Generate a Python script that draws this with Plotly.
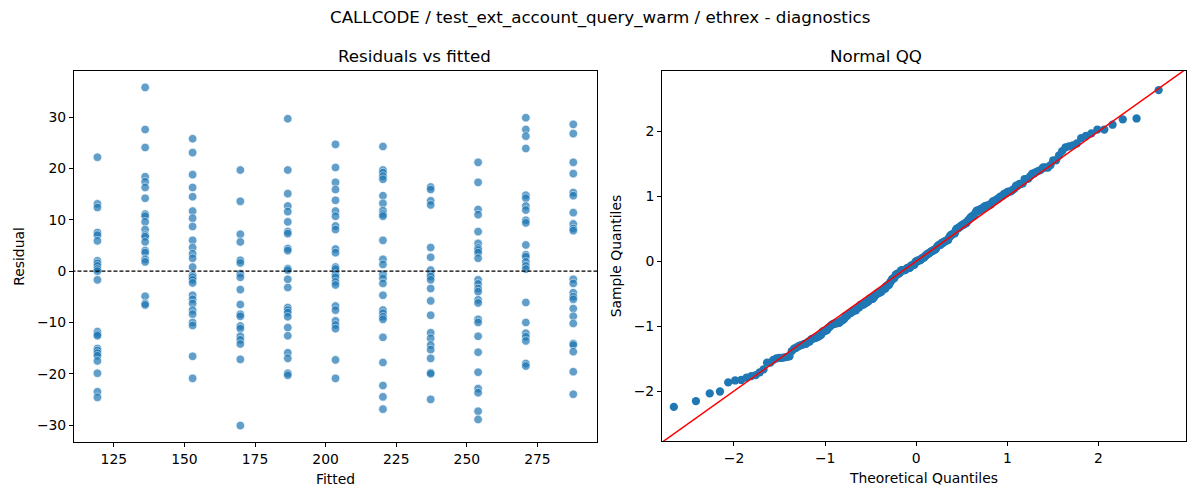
from statistics import NormalDist, mean, pstdev

import plotly.graph_objects as go

# fitted value of each group (x position of the columns)
fitted_levels = [119.2, 136.1, 152.9, 169.8, 186.6, 203.5, 220.3, 237.2, 254.0, 270.9, 287.7]

# residuals, top to bottom
res_119 = [22.2, 13.1, 12.4, 7.5, 7.0, 5.9, 2.0, 1.5, 1.0, 0.4, 0.0, -1.7, -11.8, -12.3, -12.6,
           -15.1, -15.5, -16.0, -16.5, -17.5, -19.9, -23.5, -24.6]
res_136 = [35.8, 27.6, 24.1, 18.4, 17.4, 16.3, 14.2, 11.1, 10.7, 9.6, 8.1, 7.0, 6.7, 5.7, 4.0,
           3.6, 2.3, 1.8, -4.9, -6.3, -6.6]
res_153 = [25.8, 23.1, 18.8, 16.3, 14.5, 11.7, 10.3, 8.7, 6.0, 4.6, 3.4, 2.5, 0.8, -0.8, -1.2,
           -1.7, -2.3, -4.7, -5.5, -6.3, -7.6, -8.4, -10.0, -10.6, -16.6, -20.9]
res_170 = [19.7, 13.6, 7.2, 5.7, 2.1, 1.6, -0.5, -1.2, -3.6, -6.5, -8.4, -8.8, -10.7, -11.2,
           -12.7, -13.4, -14.2, -17.2, -30.1]
res_187 = [29.7, 19.7, 15.1, 12.7, 11.6, 9.6, 7.7, 7.3, 4.4, 4.0, 0.5, 0.2, -1.6, -3.2, -7.1,
           -7.6, -8.1, -8.9, -11.0, -12.6, -15.9, -17.0, -19.9, -20.3]
res_204 = [24.7, 20.2, 17.3, 15.9, 13.8, 11.7, 10.7, 8.8, 8.1, 4.3, 3.6, 0.8, 0.4, -0.6, -1.2,
           -2.1, -2.7, -6.8, -7.6, -9.7, -10.5, -11.2, -17.3, -20.9]
res_220 = [24.3, 19.7, 19.2, 18.5, 17.9, 14.7, 13.2, 11.8, 11.1, 10.7, 6.0, 2.3, 1.3, -0.6,
           -1.4, -2.4, -4.7, -7.6, -8.2, -8.9, -9.4, -12.9, -17.8, -22.3, -24.5, -26.9]
res_237 = [16.4, 15.9, 13.7, 12.9, 4.6, 2.7, 0.2, -0.6, -1.1, -1.7, -3.4, -5.8, -8.6, -12.0,
           -13.1, -14.4, -15.3, -17.0, -19.8, -20.0, -25.0]
res_254 = [21.2, 17.3, 12.0, 11.0, 7.7, 5.4, 4.5, 4.1, 3.6, 2.5, -1.7, -2.5, -3.4, -4.0, -5.6,
           -6.2, -9.4, -10.0, -12.7, -15.8, -19.7, -22.9, -23.7, -27.3, -28.9]
res_271 = [29.9, 27.6, 26.3, 23.9, 14.8, 14.2, 12.7, 11.9, 9.9, 9.4, 5.1, 3.2, 2.8, 1.8, 1.0,
           0.4, -6.1, -10.0, -12.1, -12.8, -13.6, -18.0, -18.5]
res_288 = [28.6, 26.8, 21.2, 19.0, 15.3, 14.7, 11.4, 9.2, 8.3, 7.9, -1.6, -2.4, -4.2, -5.0,
           -5.5, -7.3, -8.8, -10.2, -14.1, -14.4, -15.7, -19.6, -24.0]

residual_groups = [res_119, res_136, res_153, res_170, res_187, res_204,
                   res_220, res_237, res_254, res_271, res_288]

title = "CALLCODE / test_ext_account_query_warm / ethrex - diagnostics"
font = "DejaVu Sans"
blue = "#1f77b4"

fitted = []
resid = []
for level, group in zip(fitted_levels, residual_groups):
    fitted += [level] * len(group)
    resid += group

# normal QQ: standardised sample quantiles vs normal quantiles
n = len(resid)
mu = mean(resid)
sd = pstdev(resid)
sample_q = sorted((r - mu) / sd for r in resid)
theo_q = [NormalDist().inv_cdf(i / (n + 1)) for i in range(1, n + 1)]

fig = go.Figure()

fig.add_trace(go.Scatter(
    x=fitted, y=resid, mode="markers",
    marker=dict(size=8.6, color=blue, opacity=0.7, line=dict(color="white", width=0.7)),
    xaxis="x", yaxis="y", showlegend=False))
fig.add_trace(go.Scatter(
    x=[110, 297], y=[0, 0], mode="lines",
    line=dict(color="black", width=1.1, dash="4px,2px"),
    xaxis="x", yaxis="y", showlegend=False))

fig.add_trace(go.Scatter(
    x=theo_q, y=sample_q, mode="markers",
    marker=dict(size=8.3, color=blue),
    xaxis="x2", yaxis="y2", showlegend=False))
fig.add_trace(go.Scatter(
    x=[-3.5, 3.5], y=[-3.5, 3.5], mode="lines",
    line=dict(color="red", width=1.5),
    xaxis="x2", yaxis="y2", showlegend=False))

axis_style = dict(showline=True, mirror=True, linecolor="black", linewidth=1,
                  ticks="outside", ticklen=4, tickwidth=1, tickcolor="black",
                  showgrid=False, zeroline=False, automargin=False,
                  tickfont=dict(family=font, size=13.9, color="black"))

# the page body adds 8px, so the figure is 1192x492
W, H = 1192, 492

fig.update_layout(
    width=W, height=H,
    margin=dict(l=0, r=0, t=0, b=0),
    paper_bgcolor="white", plot_bgcolor="white",
    font=dict(family=font, color="black"),
    xaxis=dict(domain=[66 / W, 589 / W], range=[110.9, 296.1], tickvals=[125, 150, 175, 200, 225, 250, 275],
               title=dict(text="Fitted", font=dict(size=13.9), standoff=8), anchor="y", **axis_style),
    yaxis=dict(domain=[1 - 434 / H, 1 - 63 / H], range=[-33.3, 39.0], dtick=10,
               title=dict(text="Residual", font=dict(size=13.9), standoff=9), anchor="x", **axis_style),
    xaxis2=dict(domain=[654 / W, 1178 / W], range=[-2.79, 2.96], dtick=1,
                title=dict(text="Theoretical Quantiles", font=dict(size=13.9), standoff=8), anchor="y2",
                **axis_style),
    yaxis2=dict(domain=[1 - 433 / H, 1 - 63 / H], range=[-2.77, 2.93], dtick=1,
                title=dict(text="Sample Quantiles", font=dict(size=13.9), standoff=8), anchor="x2",
                **axis_style),
    annotations=[
        dict(text=title, x=592 / W, y=1 - 10 / H, xref="paper", yref="paper", showarrow=False,
             yanchor="middle", font=dict(size=16.7)),
        dict(text="Residuals vs fitted", x=327.5 / W, y=1 - 48 / H, xref="paper", yref="paper",
             showarrow=False, yanchor="middle", font=dict(size=16.7)),
        dict(text="Normal QQ", x=916 / W, y=1 - 48 / H, xref="paper", yref="paper",
             showarrow=False, yanchor="middle", font=dict(size=16.7)),
    ],
)

fig.write_html("out.html")
